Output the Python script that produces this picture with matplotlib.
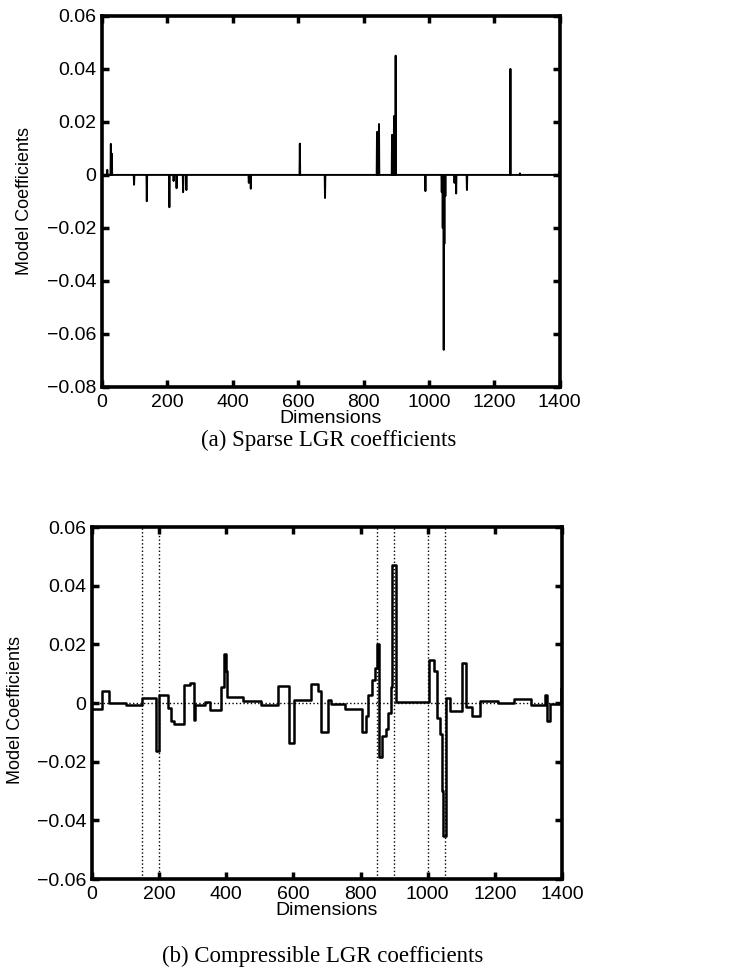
import numpy as np
import matplotlib
matplotlib.use("Agg")
import matplotlib.pyplot as plt
from matplotlib.ticker import FuncFormatter

# (a) sparse coefficients: dimension index -> value
sparse_dims = [16, 27, 30, 98, 137, 206, 219, 228, 248, 258, 449, 455, 605, 682,
               841, 844, 847, 887, 890, 893, 898, 989, 1039, 1042, 1045, 1047, 1050,
               1078, 1083, 1116, 1249, 1278, 1398]
sparse_vals = [0.0019, 0.0117, 0.008, -0.0037, -0.0099, -0.0122, -0.0023, -0.005,
               -0.0065, -0.0057, -0.003, -0.0052, 0.0118, -0.0087,
               0.0162, 0.016, 0.0192, 0.0151, 0.015, 0.0222, 0.045, -0.0061,
               -0.0065, -0.02, -0.066, -0.026, -0.008,
               -0.003, -0.007, -0.0057, 0.040, 0.0006, 0.001]

# (b) compressible coefficients: piecewise constant (segment start, value)
seg_start = [0, 30, 50, 100, 150, 190, 200, 225, 235, 245, 273, 293, 303, 308, 338,
             350, 383, 393, 400, 403, 450, 503, 553, 588, 603, 653, 673, 681, 703,
             713, 753, 805, 815, 823, 833, 843, 850, 855, 865, 875, 883, 890, 893,
             906, 1003, 1020, 1028, 1036, 1043, 1046, 1053, 1066, 1103, 1113, 1133,
             1156, 1208, 1258, 1308, 1348, 1355, 1363, 1398]
seg_vals = [-0.0019, 0.004, 0.0, -0.0007, 0.0016, -0.0165, 0.0027, -0.0016, -0.006,
            -0.0073, 0.006, 0.0067, -0.0058, -0.0007, 0.0003,
            -0.0025, 0.0054, 0.0166, 0.011, 0.0021, 0.0007, -0.0007, 0.0057, -0.0137,
            0.0011, 0.0064, 0.004, -0.0098, 0.001,
            -0.0005, -0.002, -0.0098, -0.0045, 0.0027, 0.008, 0.0118, 0.02, -0.0184,
            -0.0112, -0.009, -0.0034, 0.0056, 0.0472,
            0.0002, 0.0148, 0.011, -0.005, -0.0105, -0.03, -0.0453, 0.0016, -0.0028,
            0.0135, -0.0013, -0.0043,
            0.0008, 0.0, 0.0015, -0.0006, 0.0029, -0.006, -0.0003, 0.005]
group_bounds = [150, 200, 850, 900, 1000, 1050]

n_dims = 1400


def fmt(v, pos):
    if abs(v) < 1e-12:
        return "0"
    return ("%.2f" % v).replace("-", "\u2212")


def style_axes(ax, ylim, yticks):
    ax.set_xlim(0, n_dims)
    ax.set_ylim(*ylim)
    ax.set_xticks(np.arange(0, 1401, 200))
    ax.set_yticks(yticks)
    ax.yaxis.set_major_formatter(FuncFormatter(fmt))
    ax.tick_params(direction="in", length=5, width=2.5, top=True, right=True,
                   labelsize=14)
    ax.tick_params(axis="x", pad=5)
    ax.tick_params(axis="y", pad=4)
    for s in ax.spines.values():
        s.set_linewidth(2.6)
    ax.set_xlabel("Dimensions", fontsize=14, labelpad=-1)
    ax.set_ylabel("Model Coefficients", fontsize=13)


plt.rcParams["font.family"] = ["Liberation Sans", "DejaVu Sans"]
serif = ["Liberation Serif", "DejaVu Serif"]

fig = plt.figure(figsize=(7.36, 9.74), dpi=100)

# --- (a)
ax1 = fig.add_axes([0.1386, 0.6027, 0.622, 0.381])
coef = np.zeros(n_dims + 1)
coef[sparse_dims] = sparse_vals
ax1.plot(np.arange(n_dims + 1), coef, color="black", lw=1.4)
style_axes(ax1, (-0.08, 0.06), np.arange(-0.08, 0.061, 0.02))
ax1.yaxis.set_label_coords(-0.15, 0.5)
fig.text(0.446, 0.548, "(a) Sparse LGR coefficients", ha="center", va="center",
         fontsize=16.5, family=serif)

# --- (b)
ax2 = fig.add_axes([0.125, 0.0975, 0.6386, 0.3614])
for b in group_bounds:
    ax2.axvline(b, color="black", ls=":", lw=1)
ax2.axhline(0, color="black", ls=":", lw=1)
ax2.step(seg_start + [n_dims], seg_vals + [seg_vals[-1]], where="post",
         color="black", lw=1.8)
style_axes(ax2, (-0.06, 0.06), np.arange(-0.06, 0.061, 0.02))
ax2.yaxis.set_label_coords(-0.145, 0.48)
fig.text(0.438, 0.018, "(b) Compressible LGR coefficients", ha="center",
         va="center", fontsize=16.5, family=serif)

fig.savefig("out.png", dpi=100)
